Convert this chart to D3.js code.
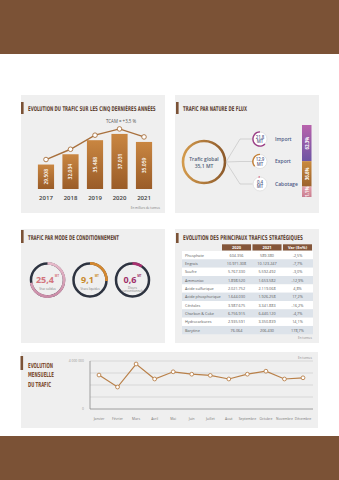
<!DOCTYPE html>
<html><head><meta charset="utf-8">
<script src="https://cdn.jsdelivr.net/npm/d3@7"></script>
<style>body{margin:0;background:#fff}svg{display:block}</style>
</head><body>
<svg id="c" width="339" height="480"></svg>
<script>
// ---------- DATA ----------
const years = ["2017","2018","2019","2020","2021"];
const yearlyTraffic = [29.508, 32.034, 35.488, 37.031, 35.059];
const yearlyLabels = ["29.508","32.034","35.488","37.031","35.059"];
const tcamText = "TCAM = +3,5 %";
const flowNames = ["Import","Export","Cabotage"];
const flowTonnage = [21.8, 12.9, 0.4];
const flowLabels = ["21,8","12,9","0,4"];
const flowShares = [62.3, 36.6, 1.1];
const flowShareLabels = ["62,3%","36,6%","1,1%"];
const globalTraffic = 35.1;
const globalLabel = "35,1 MT";
const modeNames = [["Vrac solides"],["Vracs liquides"],["Divers","conventionnels"]];
const modeTonnage = [25.4, 9.1, 0.6];
const modeLabels = ["25,4","9,1","0,6"];
const tableColumns = ["2020","2021","Var (En%)"];
const products = ["Phosphate","Engrais","Soufre","Ammoniac","Acide sulfurique","Acide phosphorique","Céréales","Charbon & Coke","Hydrocarbures","Barytine"];
const tonnage2020 = ["604.356","10.971.308","5.767.330","1.898.520","2.021.752","1.644.030","3.987.675","6.756.915","2.935.591","76.064"];
const tonnage2021 = ["589.380","10.123.247","5.592.492","1.653.582","2.119.068","1.926.258","3.341.883","6.440.120","3.350.839","206.430"];
const variation = ["-2,5%","-7,7%","-3,0%","-12,9%","4,8%","17,2%","-16,2%","-4,7%","14,1%","178,7%"];
const months = ["Janvier","Février","Mars","Avril","Mai","Juin","Juillet","Aout","Septembre","Octobre","Novembre","Décembre"];
const monthlyTraffic = [2830000,1830000,3750000,2500000,3100000,2900000,2800000,2500000,2900000,3150000,2500000,2600000];
const monthlyTicks = [0, 4000000];

// ---------- HELPERS ----------
const svg = d3.select("#c");
const BROWN = "#7b5236";
const PANEL = "#efefef";
const SANS = "'Open Sans', 'Noto Sans', sans-serif";
const COND = "'Liberation Sans Narrow', 'DejaVu Sans Condensed', 'Roboto Condensed', 'Liberation Sans', sans-serif";
const defs = svg.append("defs");
function grad(id, c1, c2, horiz) {
  const g = defs.append("linearGradient").attr("id", id)
    .attr("x1", 0).attr("y1", 0).attr("x2", horiz ? 1 : 0).attr("y2", horiz ? 0 : 1);
  g.append("stop").attr("offset", "0%").attr("stop-color", c1);
  g.append("stop").attr("offset", "100%").attr("stop-color", c2);
}
grad("gBar", "#c98641", "#9a5c28");
grad("gRing", "#d39a4c", "#8d5a2b", true);
grad("gImp", "#b862ac", "#6d55a3");
grad("gExp", "#c98a3d", "#9c622d");
grad("gCab", "#e3a0ab", "#c97d90");
grad("gPink", "#e7bccb", "#c98aa6");

function txt(g, x, y, s, o) {
  o = o || {};
  const t = g.append("text").attr("x", x).attr("y", y).text(s)
    .attr("font-family", o.family || SANS)
    .attr("font-size", o.size || 5)
    .attr("font-weight", o.weight || 400)
    .attr("fill", o.fill || "#555")
    .attr("text-anchor", o.anchor || "start");
  if (o.baseline) t.attr("dominant-baseline", o.baseline);
  return t;
}
// condensed text: horizontally scaled to fit a target width
function condText(g, x, y, s, w, size, fill) {
  const t = g.append("text").attr("x", 0).attr("y", 0).text(s)
    .attr("font-family", COND).attr("font-size", size).attr("font-weight", 700).attr("fill", fill);
  const nat = t.node().getComputedTextLength();
  t.attr("transform", `translate(${x},${y}) scale(${w / nat},1)`);
  return t;
}
function panel(x, y, w, h) {
  svg.append("rect").attr("x", x).attr("y", y).attr("width", w).attr("height", h).attr("fill", PANEL);
}
function title(x, y, s, w, mY0, mY1) {
  svg.append("rect").attr("x", x - 7).attr("y", mY0).attr("width", 2.6).attr("height", mY1 - mY0).attr("fill", BROWN);
  condText(svg, x, y, s, w, 6.6, "#5e4232");
}

// ---------- BACKGROUND ----------
svg.append("rect").attr("x", 0).attr("y", 0).attr("width", 339).attr("height", 54).attr("fill", BROWN);
svg.append("rect").attr("x", 0).attr("y", 436).attr("width", 339).attr("height", 44).attr("fill", BROWN);

panel(21, 95, 144, 118);
panel(175, 95, 144, 118);
panel(21, 229, 144, 114);
panel(175, 229, 144, 114);
panel(21, 352, 297, 76);

// ---------- PANEL 1 : yearly bars ----------
title(28, 110.5, "EVOLUTION DU TRAFIC SUR LES CINQ DERNIÈRES ANNÉES", 128, 102, 114);
const xB = d3.scaleBand().domain(years).range([33, 157]).paddingInner(0.34).paddingOuter(0.2);
const yB = d3.scaleLinear().domain([23.5, 37.5]).range([189, 132]);
const g1 = svg.append("g");
g1.selectAll("rect.bar").data(years).join("rect").attr("class", "bar")
  .attr("x", d => xB(d)).attr("width", xB.bandwidth())
  .attr("y", (d, i) => yB(yearlyTraffic[i]))
  .attr("height", (d, i) => 189 - yB(yearlyTraffic[i]))
  .attr("fill", "url(#gBar)");
years.forEach((d, i) => {
  const cx = xB(d) + xB.bandwidth() / 2;
  const cy = (yB(yearlyTraffic[i]) + 189) / 2;
  txt(g1, cx, cy, yearlyLabels[i], {size: 5, weight: 600, fill: "#fff", anchor: "middle", baseline: "central"})
    .attr("transform", `rotate(-90,${cx},${cy})`);
  txt(g1, cx, 200, d, {size: 6, weight: 600, fill: "#3d3d3d", anchor: "middle"});
});
const linePts = years.map((d, i) => [xB(d) + xB.bandwidth() / 2, yB(yearlyTraffic[i]) - 5]);
g1.append("path").attr("d", d3.line()(linePts)).attr("fill", "none").attr("stroke", "#a8703d").attr("stroke-width", 1.4);
g1.selectAll("circle").data(linePts).join("circle").attr("cx", d => d[0]).attr("cy", d => d[1]).attr("r", 2.3)
  .attr("fill", "#fff").attr("stroke", "#a8703d").attr("stroke-width", 0.9);
txt(g1, 121, 123, tcamText, {size: 4.4, fill: "#555", anchor: "middle"});
txt(g1, 160, 209, "En milliers de tonnes", {size: 3, fill: "#777", anchor: "end"});

// ---------- PANEL 2 : flows ----------
title(183, 110.5, "TRAFIC PAR NATURE DE FLUX", 64, 102, 114);
const g2 = svg.append("g");
const cG = [204, 162];
g2.append("circle").attr("cx", cG[0]).attr("cy", cG[1]).attr("r", 21).attr("fill", "none")
  .attr("stroke", "url(#gRing)").attr("stroke-width", 2.6);
txt(g2, cG[0], cG[1] - 1.5, "Trafic global", {size: 5, weight: 600, fill: "#4f5d78", anchor: "middle"});
txt(g2, cG[0], cG[1] + 5.5, globalLabel, {size: 5, weight: 600, fill: "#4f5d78", anchor: "middle"});
const yF = d3.scalePoint().domain(flowNames).range([139, 184]);
const fx = 260;
flowNames.forEach((d, i) => {
  const y = yF(d);
  g2.append("path").attr("d", d3.line()([[226, cG[1]], [240, y], [fx - 7.5, y]]))
    .attr("fill", "none").attr("stroke", "#bdbdbd").attr("stroke-width", 0.6);
});
const flowColors = ["#9b3d86", "#c4823a", "#d86f86"];
const arcF = d3.arc().innerRadius(6.4).outerRadius(7.8).startAngle(0);
flowNames.forEach((d, i) => {
  const y = yF(d);
  g2.append("circle").attr("cx", fx).attr("cy", y).attr("r", 7).attr("fill", "#fff").attr("stroke", "#dcdcdc").attr("stroke-width", 0.8);
  g2.append("path").attr("transform", `translate(${fx},${y})`)
    .attr("d", arcF({endAngle: -Math.max(flowShares[i] / 100 * 2 * Math.PI, 0.22)}))
    .attr("fill", flowColors[i]);
  txt(g2, fx, y - 0.5, flowLabels[i], {size: 4.4, weight: 600, fill: "#56608a", anchor: "middle"});
  txt(g2, fx, y + 4, "MT", {size: 4.4, weight: 600, fill: "#56608a", anchor: "middle"});
  txt(g2, 275, y + 1.8, d, {size: 5, weight: 600, fill: "#4d5a86"});
});
// stacked share bar
const H = 72, minH = 10, barTop = 125;
const hS = d3.scaleLinear().domain([0, 100]).range([0, H - 3 * minH]);
let acc = barTop;
const segFills = ["url(#gImp)", "url(#gExp)", "url(#gCab)"];
flowShares.forEach((s, i) => {
  const h = minH + hS(s);
  g2.append("rect").attr("x", 302).attr("y", acc).attr("width", 9.5).attr("height", h).attr("fill", segFills[i]);
  const cx = 306.75, cy = acc + h / 2;
  txt(g2, cx, cy, flowShareLabels[i], {size: 4.4, weight: 700, fill: "#fff", anchor: "middle", baseline: "central"})
    .attr("transform", `rotate(-90,${cx},${cy})`);
  acc += h;
});

// ---------- PANEL 3 : conditioning ----------
title(28, 239.5, "TRAFIC PAR MODE DE CONDITIONNEMENT", 91, 230, 243);
const g3 = svg.append("g");
const xD = d3.scalePoint().domain(modeLabels).range([47.5, 132.5]);
const modeColors = ["url(#gPink)", "#d4882f", "#a8306e"];
const modeText = ["#d3747d", "#c98a2c", "#a02f6a"];
const aScale = d3.scaleLinear().domain([0, globalTraffic]).range([0, 2 * Math.PI]);
const arcD = d3.arc().innerRadius(15.2).outerRadius(17.9).startAngle(0);
modeLabels.forEach((d, i) => {
  const cx = xD(d), cy = 280;
  g3.append("circle").attr("cx", cx).attr("cy", cy).attr("r", 16.5).attr("fill", "none").attr("stroke", "#2d3340").attr("stroke-width", 2.5);
  g3.append("path").attr("transform", `translate(${cx},${cy})`)
    .attr("d", arcD({endAngle: Math.max(aScale(modeTonnage[i]), 0.6)})).attr("fill", modeColors[i]);
  const num = txt(g3, 0, cy + 2.6, d, {size: 9, weight: 700, fill: modeText[i]});
  const w = num.node().getComputedTextLength();
  const sup = txt(g3, 0, cy - 2.6, "MT", {size: 2.8, weight: 700, fill: modeText[i]});
  const ws = sup.node().getComputedTextLength();
  const x0 = cx - (w + ws + 0.8) / 2;
  num.attr("x", x0); sup.attr("x", x0 + w + 0.8);
  const n = modeNames[i].length;
  modeNames[i].forEach((line, j) => {
    txt(g3, cx, cy + 9.8 + j * 3.4 - (n - 1) * 1.2, line, {size: 3, fill: "#7a7a7a", anchor: "middle"});
  });
});

// ---------- PANEL 4 : table ----------
title(183, 239.5, "EVOLUTION DES PRINCIPAUX TRAFICS STRATÉGIQUES", 120, 233, 243);
const g4 = svg.append("g");
const xC = d3.scaleBand().domain(tableColumns).range([222, 312]).paddingInner(0.05);
const yR = d3.scaleBand().domain(products).range([251, 334.3]);
tableColumns.forEach(c => {
  g4.append("rect").attr("x", xC(c)).attr("y", 244.3).attr("width", xC.bandwidth()).attr("height", 6.2).attr("fill", "#84563a");
  txt(g4, xC(c) + xC.bandwidth() / 2, 248.9, c, {size: 4, weight: 700, fill: "#fff", anchor: "middle"});
});
products.forEach((p, i) => {
  const y = yR(p);
  g4.append("rect").attr("x", 182).attr("y", y).attr("width", 131).attr("height", yR.bandwidth())
    .attr("fill", i % 2 ? "#dde3ea" : "#ffffff");
  const ty = y + yR.bandwidth() / 2 + 1.4;
  txt(g4, 185, ty, p, {size: 3.8, fill: "#5a5a5a"});
  txt(g4, xC("2020") + xC.bandwidth() / 2, ty, tonnage2020[i], {size: 3.8, fill: "#5a5a5a", anchor: "middle"});
  txt(g4, xC("2021") + xC.bandwidth() / 2, ty, tonnage2021[i], {size: 3.8, fill: "#5a5a5a", anchor: "middle"});
  txt(g4, xC("Var (En%)") + xC.bandwidth() / 2, ty, variation[i], {size: 3.8, fill: "#5a5a5a", anchor: "middle"});
});
txt(g4, 312, 338.5, "En tonnes", {size: 3, fill: "#888", anchor: "end"});

// ---------- PANEL 5 : monthly ----------
const g5 = svg.append("g");
g5.append("rect").attr("x", 20.5).attr("y", 356).attr("width", 2.6).attr("height", 14).attr("fill", BROWN);
condText(g5, 28, 367.5, "EVOLUTION", 25, 7, "#7b4a2d");
condText(g5, 28, 377.3, "MENSUELLE", 26, 7, "#7b4a2d");
condText(g5, 28, 387, "DU TRAFIC", 23, 7, "#7b4a2d");
txt(g5, 312, 359, "En tonnes", {size: 3, fill: "#888", anchor: "end"});
const xM = d3.scalePoint().domain(months).range([99, 303]);
const yM = d3.scaleLinear().domain([0, 4000000]).range([409, 361]);
d3.range(1000000, 4000001, 1000000).forEach(v => {
  g5.append("line").attr("x1", 90).attr("x2", 313).attr("y1", yM(v)).attr("y2", yM(v)).attr("stroke", "#c8c8c8").attr("stroke-width", 0.6);
});
g5.append("line").attr("x1", 90).attr("x2", 313).attr("y1", yM(0)).attr("y2", yM(0)).attr("stroke", "#8a8a8a").attr("stroke-width", 0.8);
g5.append("line").attr("x1", 90).attr("x2", 90).attr("y1", yM(4000000)).attr("y2", yM(0)).attr("stroke", "#8a8a8a").attr("stroke-width", 0.8);
monthlyTicks.forEach(v => {
  txt(g5, 84, yM(v) + 1.2, d3.format(",")(v).replace(/,/g, " "), {size: 3.4, fill: "#999", anchor: "end"});
});
months.forEach(m => txt(g5, xM(m), 419.5, m, {size: 3.4, fill: "#777", anchor: "middle"}));
const mPts = months.map((m, i) => [xM(m), yM(monthlyTraffic[i])]);
g5.append("path").attr("d", d3.line()(mPts)).attr("fill", "none").attr("stroke", "#b98049").attr("stroke-width", 1.2);
g5.selectAll("circle").data(mPts).join("circle").attr("cx", d => d[0]).attr("cy", d => d[1]).attr("r", 1.9)
  .attr("fill", "#fff").attr("stroke", "#b98049").attr("stroke-width", 0.9);
</script>
</body></html>
